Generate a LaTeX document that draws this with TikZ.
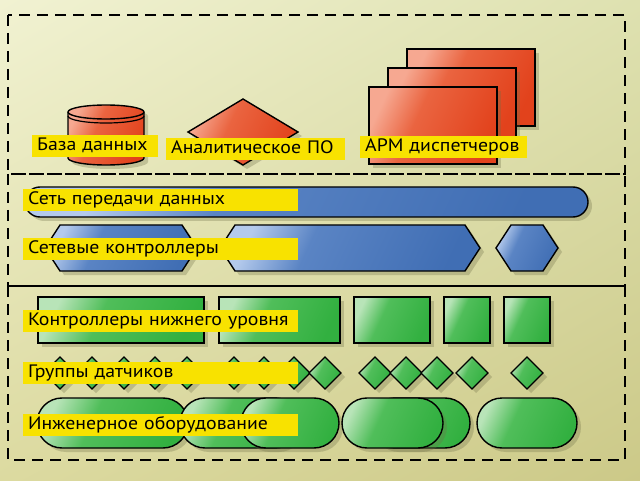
\documentclass[tikz,border=0pt]{standalone}
\usepackage{fontspec}
\setmainfont[FakeStretch=1.1]{PT Sans}
\usetikzlibrary{shadows,shadings}
\definecolor{bgA}{RGB}{241,242,210}
\definecolor{bgC}{RGB}{222,225,176}
\definecolor{bgD}{RGB}{220,218,160}
\definecolor{bgB}{RGB}{204,201,136}
\definecolor{redL}{RGB}{246,168,145}
\definecolor{redM}{RGB}{234,100,64}
\definecolor{redD}{RGB}{226,66,28}
\definecolor{bluL}{RGB}{180,202,236}
\definecolor{bluM}{RGB}{90,132,196}
\definecolor{bluD}{RGB}{64,110,180}
\definecolor{grnL}{RGB}{184,228,184}
\definecolor{grnM}{RGB}{80,190,90}
\definecolor{grnD}{RGB}{50,176,64}
\definecolor{lab}{RGB}{248,226,0}
\definecolor{shd}{RGB}{110,110,70}
\pgfdeclarehorizontalshading{redsh}{100bp}{color(0bp)=(redL); color(25bp)=(redL); color(42bp)=(redM); color(75bp)=(redD); color(100bp)=(redD)}
\pgfdeclarehorizontalshading{blush}{100bp}{color(0bp)=(bluL); color(25bp)=(bluL); color(40bp)=(bluM); color(75bp)=(bluD); color(100bp)=(bluD)}
\pgfdeclarehorizontalshading{grnsh}{100bp}{color(0bp)=(grnL); color(25bp)=(grnL); color(42bp)=(grnM); color(75bp)=(grnD); color(100bp)=(grnD)}
\tikzset{
  shp/.style={draw=black, line width=1.4pt, line join=miter,
    drop shadow={shadow xshift=4pt, shadow yshift=-4pt, opacity=0.3, fill=shd}},
  redshp/.style={shp, shade, shading=redsh, shading angle=-25},
  blushp/.style={shp, shade, shading=blush, shading angle=-25},
  grnshp/.style={shp, shade, shading=grnsh, shading angle=-25},
  zone/.style={draw=black, line width=2.2pt, dash pattern=on 11pt off 7pt},
  lbl/.style={fill=lab, anchor=west, inner xsep=5pt, inner ysep=0pt,
    minimum height=22pt, align=left, text height=13pt, text depth=4pt,
    font=\fontsize{18}{20}\selectfont},
  wide/.style={lbl, text width=265pt},
}
\begin{document}
\begin{tikzpicture}[x=1pt,y=-1pt]
\useasboundingbox (0,0) rectangle (640,481);
\shade[upper left=bgA, upper right=bgC, lower left=bgD, lower right=bgB] (0,0) rectangle (640,481);

% zones
\draw[zone] (8,15) rectangle (625,174);
\draw[zone] (8,174) rectangle (625,286);
\draw[zone] (8,286) rectangle (625,460);

% database cylinder
\draw[redshp] (68,112) -- (68,158) arc[start angle=180,end angle=0,x radius=38,y radius=7]
  -- (144,112) arc[start angle=0,end angle=-180,x radius=38,y radius=7] -- cycle;
\draw[line width=1.4pt] (68,112) arc[start angle=180,end angle=0,x radius=38,y radius=7];
\draw[line width=1.2pt] (68,116) arc[start angle=180,end angle=0,x radius=38,y radius=7];

% diamond
\draw[redshp] (188,132) -- (243,99) -- (298,132) -- (243,165) -- cycle;

% workstations
\draw[redshp] (407,49) rectangle (535,126);
\draw[redshp] (388,68) rectangle (516,145);
\draw[redshp] (369,87) rectangle (497,164);

% network bar
\draw[blushp, rounded corners=15pt] (25,187) rectangle (588,217);

% hexagons
\draw[blushp] (45,248) -- (60,225) -- (182,225) -- (197,248) -- (182,271) -- (60,271) -- cycle;
\draw[blushp] (220,248) -- (235,225) -- (465,225) -- (480,248) -- (465,271) -- (235,271) -- cycle;
\draw[blushp] (496,248) -- (511,225) -- (543,225) -- (558,248) -- (543,271) -- (511,271) -- cycle;

% lower controllers
\foreach \a/\b in {38/204, 219/340, 354/430, 444/490, 504/550}
  \draw[grnshp] (\a,297) rectangle (\b,343);

% sensors
\foreach \c in {60,92,124,155,187,234,264,294,325,375,406,437,472,527}
  \draw[grnshp] (\c-16,373) -- (\c,357) -- (\c+16,373) -- (\c,389) -- cycle;

% equipment
\foreach \a/\b in {37/188, 180/300, 241/339, 370/470, 342/443, 477/577}
  \draw[grnshp, rounded corners=25pt] (\a,398) rectangle (\b,448);

% labels
\node[lbl, text width=116pt] (db) at (32,146.5) {База данных};
\node[lbl, text width=169pt] (an) at (166,149) {Аналитическое ПО};
\node[lbl, text width=157pt] (arm) at (360,147) {АРМ диспетчеров};
\node[wide] (net) at (23,200) {Сеть передачи данных};
\node[wide] (nc) at (23,249) {Сетевые контроллеры};
\node[wide] (lc) at (23,321) {Контроллеры нижнего уровня};
\node[wide] (sg) at (23,372.5) {Группы датчиков};
\node[wide] (eq) at (23,425) {Инженерное оборудование};
\end{tikzpicture}
\end{document}
